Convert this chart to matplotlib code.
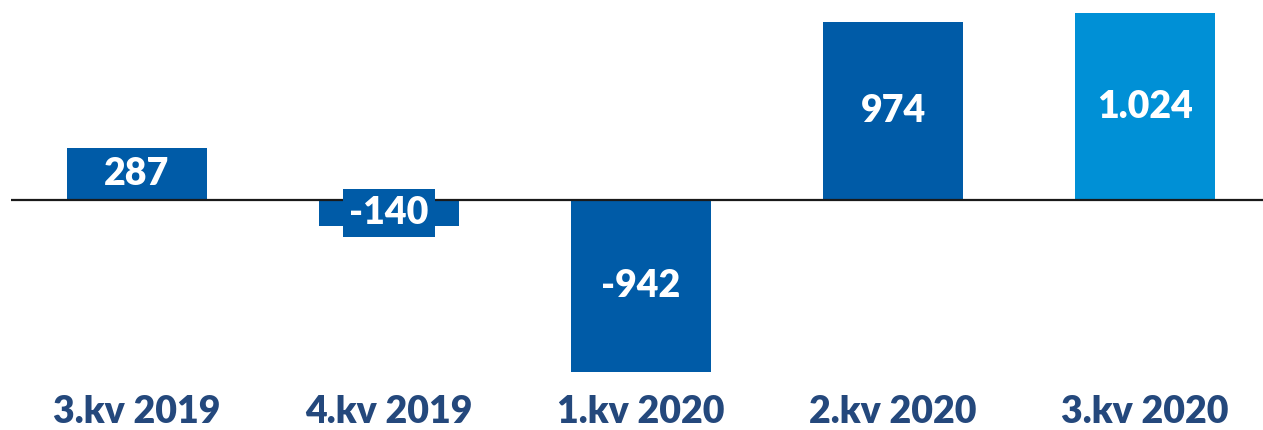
import matplotlib.pyplot as plt
import matplotlib.transforms as mtransforms

quarters = ["3.kv 2019", "4.kv 2019", "1.kv 2020", "2.kv 2020", "3.kv 2020"]
values = [287, -140, -942, 974, 1024]
colors = ["#005BA7", "#005BA7", "#005BA7", "#005BA7", "#0090D6"]

plt.rcParams['font.family'] = ['Lato', 'DejaVu Sans']

fig = plt.figure(figsize=(12.63, 4.30), dpi=100)
ax = fig.add_axes([11 / 1263, 0, 1 - 11 / 1263, 1])
ax.set_xlim(-0.5, 4.468)
ax.set_ylim(-1260, 1096)
ax.axis("off")

x = range(len(values))
ax.bar(x, values, width=0.556, color=colors, zorder=2)
ax.axhline(0, color="#1a1a1a", lw=1.6, zorder=3)

for i, v in enumerate(values):
    label = f"{v:,}".replace(",", ".")
    ax.text(i, v / 2, label, ha="center", va="center", color="white",
            fontsize=27, fontweight="heavy", zorder=4,
            bbox=dict(boxstyle="square,pad=0.18", fc=colors[i], ec="none"))

trans = mtransforms.blended_transform_factory(ax.transData, ax.transAxes)
for i, q in enumerate(quarters):
    ax.text(i, 18 / 430, q, transform=trans, ha="center", va="center",
            color="#24487C", fontsize=27, fontweight="heavy")

fig.savefig("out.png", dpi=100)
